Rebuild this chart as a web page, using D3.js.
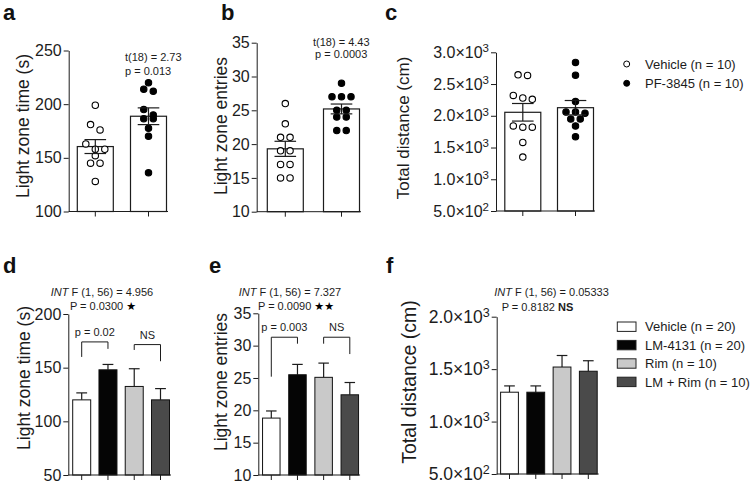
<!DOCTYPE html>
<html><head><meta charset="utf-8">
<script src="https://cdn.jsdelivr.net/npm/d3@7"></script>
<style>
body{margin:0;background:#fff;}
svg{font-family:"Liberation Sans",Arial,Helvetica,sans-serif;}
</style></head><body>
<svg id="c" width="751" height="485"></svg>
<script>
// ---------- data ----------
const topGroups = ["Vehicle", "PF-3845"];
const aVehicle = [199, 181, 176, 163, 158, 158, 152, 145, 145, 128];
const aPF = [220, 214, 212, 195, 190, 186.5, 186.5, 177.5, 170, 136];
const bVehicle = [26, 23, 21, 21, 19, 19, 17, 17, 15, 15];
const bPF = [29, 27, 27, 27, 25, 25, 24, 24, 22, 22];
const cVehicle = [2645, 2635, 2320, 2280, 2260, 1840, 1820, 1820, 1580, 1350];
const cPF = [2840, 2640, 2224, 2060, 2060, 2040, 1950, 1950, 1840, 1670];
const aTicks = [100, 150, 200, 250];
const bTicks = [10, 15, 20, 25, 30, 35];
const cTicks = [500, 1000, 1500, 2000, 2500, 3000];
const topLegend = ["Vehicle (n = 10)", "PF-3845 (n = 10)"];

const bottomGroups = ["Vehicle", "LM-4131", "Rim", "LM + Rim"];
const bottomLegend = ["Vehicle (n = 20)", "LM-4131 (n = 20)", "Rim (n = 10)", "LM + Rim (n = 10)"];
const dMean = [120, 148, 132.5, 120];
const dSem = [6.5, 5, 16.5, 10.5];
const eMean = [18.8, 25.5, 25.1, 22.4];
const eSem = [1.1, 1.6, 2.2, 1.9];
const fMean = [1280, 1280, 1520, 1480];
const fSem = [60, 60, 110, 100];
const dTicks = [50, 100, 150, 200];
const eTicks = [10, 15, 20, 25, 30, 35];
const fTicks = [500, 1000, 1500, 2000];

// ---------- style ----------
const INK = "#1c1c1c";
const bottomFills = ["#ffffff", "#050505", "#c9c9c9", "#4a4a4a"];
const svg = d3.select("#c");

function sciParts(v) {
  const e = Math.floor(Math.log10(v));
  return [(v / Math.pow(10, e)).toFixed(1) + "×10", String(e)];
}

function drawYAxis(g, y, ticks, x0, fs, sci) {
  const ax = d3.axisLeft(y).tickValues(ticks).tickSize(5).tickSizeOuter(0).tickPadding(2);
  const ga = g.append("g").attr("transform", `translate(${x0},0)`).call(ax);
  ga.select(".domain").attr("stroke", INK);
  ga.selectAll(".tick line").attr("stroke", INK);
  ga.selectAll(".tick text").attr("fill", INK).attr("font-size", fs)
    .attr("font-family", '"Liberation Sans", Arial, sans-serif');
  if (sci) {
    ga.selectAll(".tick text").each(function (d) {
      const t = d3.select(this);
      const p = sciParts(d);
      t.text(null);
      t.append("tspan").text(p[0]);
      t.append("tspan").attr("font-size", "0.72em").attr("dy", "-0.5em").text(p[1]);
    });
  }
}

function drawXAxis(g, x, groups, x0, x1, yb) {
  g.append("line").attr("x1", x0).attr("x2", x1).attr("y1", yb).attr("y2", yb)
    .attr("stroke", INK).attr("stroke-width", 1);
  g.selectAll(".xt").data(groups).join("line").attr("class", "xt")
    .attr("x1", d => x(d)).attr("x2", d => x(d)).attr("y1", yb).attr("y2", yb + 5)
    .attr("stroke", INK);
}

function yTitle(text, cx, cy, fs) {
  svg.append("text").attr("transform", `translate(${cx},${cy}) rotate(-90)`)
    .attr("text-anchor", "middle").attr("font-size", fs).attr("fill", INK).text(text);
}

function panelLetter(t, x, y) {
  svg.append("text").attr("x", x).attr("y", y).attr("font-size", 22)
    .attr("font-weight", "bold").attr("fill", "#111").text(t);
}

// row-based swarm: points with near-equal pixel y share a centred row
function swarm(vals, y, cx, spacing, thr) {
  const pts = vals.map(v => ({ v, py: y(v) })).sort((a, b) => a.py - b.py);
  const rows = [];
  pts.forEach(p => {
    const r = rows[rows.length - 1];
    if (r && p.py - r[0].py < thr) r.push(p); else rows.push([p]);
  });
  rows.forEach(r => r.forEach((p, i) => { p.px = cx + (i - (r.length - 1) / 2) * spacing; }));
  return pts;
}

function topPanel(cfg) {
  const g = svg.append("g");
  const x = d3.scalePoint().domain(topGroups).range(cfg.xr);
  const y = d3.scaleLinear().domain(cfg.yd).range(cfg.yr);
  const series = [cfg.veh, cfg.pf];
  const stats = series.map(s => {
    const m = d3.mean(s), se = d3.deviation(s) / Math.sqrt(s.length);
    return { m, se };
  });
  const bw = cfg.bw;
  g.selectAll(".bar").data(topGroups).join("rect")
    .attr("x", d => x(d) - bw / 2).attr("width", bw)
    .attr("y", (d, i) => y(stats[i].m)).attr("height", (d, i) => y(cfg.yd[0]) - y(stats[i].m))
    .attr("fill", "#fff").attr("stroke", INK).attr("stroke-width", 1.2);
  series.forEach((s, i) => {
    const pts = swarm(s, y, x(topGroups[i]), 9.5, 6);
    g.selectAll(".p" + i).data(pts).join("circle")
      .attr("cx", d => d.px).attr("cy", d => d.py).attr("r", 3.2)
      .attr("fill", i === 0 ? "#fff" : "#000").attr("stroke", "#000").attr("stroke-width", 1.1);
  });
  const cw = bw * 0.3;
  topGroups.forEach((gname, i) => {
    const cx = x(gname), st = stats[i];
    const yt = y(st.m + st.se), yb2 = y(st.m - st.se);
    g.append("line").attr("x1", cx).attr("x2", cx).attr("y1", yt).attr("y2", yb2).attr("stroke", INK).attr("stroke-width", 1.2);
    [yt, yb2].forEach(yy => g.append("line").attr("x1", cx - cw).attr("x2", cx + cw)
      .attr("y1", yy).attr("y2", yy).attr("stroke", INK).attr("stroke-width", 1.2));
  });
  drawYAxis(g, y, cfg.ticks, cfg.x0, cfg.tfs, cfg.sci);
  drawXAxis(g, x, topGroups, cfg.x0, x(topGroups[1]) + bw / 2 + 1.5, y(cfg.yd[0]));
  yTitle(cfg.title, cfg.tx, cfg.ty, cfg.titleFs);
  if (cfg.stat) {
    cfg.stat.forEach(s => g.append("text").attr("x", s.x).attr("y", s.y).attr("font-size", 11)
      .attr("fill", INK).text(s.t));
  }
}

function bottomPanel(cfg) {
  const g = svg.append("g");
  const x = d3.scalePoint().domain(bottomGroups).range(cfg.xr);
  const y = d3.scaleLinear().domain(cfg.yd).range(cfg.yr);
  const bw = cfg.bw;
  const cw = bw * 0.3;
  bottomGroups.forEach((gname, i) => {
    const cx = x(gname);
    const yt = y(cfg.mean[i] + cfg.sem[i]);
    g.append("line").attr("x1", cx).attr("x2", cx).attr("y1", yt).attr("y2", y(cfg.mean[i])).attr("stroke", INK).attr("stroke-width", 1.2);
    g.append("line").attr("x1", cx - cw).attr("x2", cx + cw).attr("y1", yt).attr("y2", yt).attr("stroke", INK).attr("stroke-width", 1.2);
  });
  g.selectAll(".bar").data(bottomGroups).join("rect")
    .attr("x", d => x(d) - bw / 2).attr("width", bw)
    .attr("y", (d, i) => y(cfg.mean[i])).attr("height", (d, i) => y(cfg.yd[0]) - y(cfg.mean[i]))
    .attr("fill", (d, i) => bottomFills[i]).attr("stroke", "#111").attr("stroke-width", 1);
  drawYAxis(g, y, cfg.ticks, cfg.x0, cfg.tfs, cfg.sci);
  drawXAxis(g, x, bottomGroups, cfg.x0, x(bottomGroups[3]) + bw / 2 + 1.5, y(cfg.yd[0]));
  yTitle(cfg.title, cfg.tx, cfg.ty, cfg.titleFs);
  (cfg.brackets || []).forEach(b => {
    const xa = x(bottomGroups[b.from]), xb = x(bottomGroups[b.to]);
    const p = d3.path();
    p.moveTo(xa, y(b.left)); p.lineTo(xa, y(b.top)); p.lineTo(xb, y(b.top)); p.lineTo(xb, y(b.right));
    g.append("path").attr("d", p.toString()).attr("fill", "none").attr("stroke", INK).attr("stroke-width", 1);
    g.append("text").attr("x", (xa + xb) / 2).attr("y", y(b.top) - 6).attr("text-anchor", "middle")
      .attr("font-size", 11).attr("fill", INK).text(b.label);
  });
  const a = cfg.anno;
  const t1 = g.append("text").attr("x", a.x).attr("y", a.y1).attr("text-anchor", "middle").attr("font-size", 11).attr("fill", INK);
  t1.append("tspan").attr("font-style", "italic").text("INT");
  t1.append("tspan").text(" " + a.line1);
  const t2 = g.append("text").attr("x", a.x2).attr("y", a.y2).attr("text-anchor", "middle").attr("font-size", 11).attr("fill", INK);
  t2.append("tspan").text(a.line2 + " ");
  if (a.stars) t2.append("tspan").attr("font-family", "DejaVu Sans").attr("font-size", 11).attr("fill", "#000").text(a.stars);
  if (a.ns) t2.append("tspan").attr("font-weight", "bold").text(a.ns);
}

// ---------- top row ----------
topPanel({ veh: aVehicle, pf: aPF, xr: [95.3, 148.5], bw: 36, yd: [100, 250], yr: [211.5, 50.5],
  ticks: aTicks, x0: 68.7, tfs: 16, sci: false, title: "Light zone time (s)", tx: 28.5, ty: 126, titleFs: 17.5,
  stat: [{ x: 125, y: 61, t: "t(18) = 2.73" }, { x: 125, y: 75, t: "p = 0.013" }] });
topPanel({ veh: bVehicle, pf: bPF, xr: [285.3, 341.5], bw: 36, yd: [10, 35], yr: [211.7, 42.7],
  ticks: bTicks, x0: 256.7, tfs: 16, sci: false, title: "Light zone entries", tx: 226.5, ty: 126, titleFs: 17.5,
  stat: [{ x: 313, y: 45.5, t: "t(18) = 4.43" }, { x: 315, y: 57.5, t: "p = 0.0003" }] });
topPanel({ veh: cVehicle, pf: cPF, xr: [522.8, 575.5], bw: 36, yd: [500, 3000], yr: [211, 52.3],
  ticks: cTicks, x0: 496, tfs: 16, sci: true, title: "Total distance (cm)", tx: 408.5, ty: 128, titleFs: 17 });

const lgTop = svg.append("g");
lgTop.selectAll("circle").data(topLegend).join("circle")
  .attr("cx", 626.7).attr("cy", (d, i) => 64 + i * 19.3).attr("r", 3)
  .attr("fill", (d, i) => i === 0 ? "#fff" : "#000").attr("stroke", "#000").attr("stroke-width", 1);
lgTop.selectAll("text").data(topLegend).join("text")
  .attr("x", 645).attr("y", (d, i) => 64 + i * 19.3 + 4.6).attr("font-size", 13).attr("fill", INK).text(d => d);

// ---------- bottom row ----------
bottomPanel({ mean: dMean, sem: dSem, xr: [81.7, 160.5], bw: 18, yd: [50, 200], yr: [475, 314],
  ticks: dTicks, x0: 68.3, tfs: 16, sci: false, title: "Light zone time (s)", tx: 30, ty: 378, titleFs: 17.5,
  brackets: [{ from: 0, to: 1, top: 174, left: 160, right: 167.5, label: "p = 0.02" },
             { from: 2, to: 3, top: 171.5, left: 166.5, right: 156, label: "NS" }],
  anno: { x: 102, y1: 295.5, line1: "F (1, 56) = 4.956", x2: 103, y2: 309.5, line2: "P = 0.0300", stars: "★" } });
bottomPanel({ mean: eMean, sem: eSem, xr: [271.3, 349.8], bw: 17.5, yd: [10, 35], yr: [475, 313.3],
  ticks: eTicks, x0: 258.3, tfs: 16, sci: false, title: "Light zone entries", tx: 226.5, ty: 382, titleFs: 17.5,
  brackets: [{ from: 0, to: 1, top: 31.3, left: 25.2, right: 30.3, label: "p = 0.003" },
             { from: 2, to: 3, top: 31.3, left: 30.3, right: 28.7, label: "NS" }],
  anno: { x: 290, y1: 295.5, line1: "F (1, 56) = 7.327", x2: 296, y2: 309.5, line2: "P = 0.0090", stars: "★★" } });
bottomPanel({ mean: fMean, sem: fSem, xr: [509.5, 588.3], bw: 17.8, yd: [500, 2000], yr: [474, 316.7],
  ticks: fTicks, x0: 496.7, tfs: 17.5, sci: true, title: "Total distance (cm)", tx: 416, ty: 382, titleFs: 19.5,
  anno: { x: 551.5, y1: 295.5, line1: "F (1, 56) = 0.05333", x2: 537.5, y2: 310.5, line2: "P = 0.8182", ns: "NS" } });

const lgB = svg.append("g");
lgB.selectAll("rect").data(bottomLegend).join("rect")
  .attr("x", 617.3).attr("y", (d, i) => 322 + i * 18.4).attr("width", 18.7).attr("height", 9.4)
  .attr("fill", (d, i) => bottomFills[i]).attr("stroke", "#222").attr("stroke-width", 1);
lgB.selectAll("text").data(bottomLegend).join("text")
  .attr("x", 645).attr("y", (d, i) => 322 + i * 18.4 + 9.3).attr("font-size", 13).attr("fill", INK).text(d => d);

panelLetter("a", 3, 20); panelLetter("b", 221, 20); panelLetter("c", 385, 20);
panelLetter("d", 3, 273); panelLetter("e", 209, 273); panelLetter("f", 386, 273);
</script>
</body></html>
